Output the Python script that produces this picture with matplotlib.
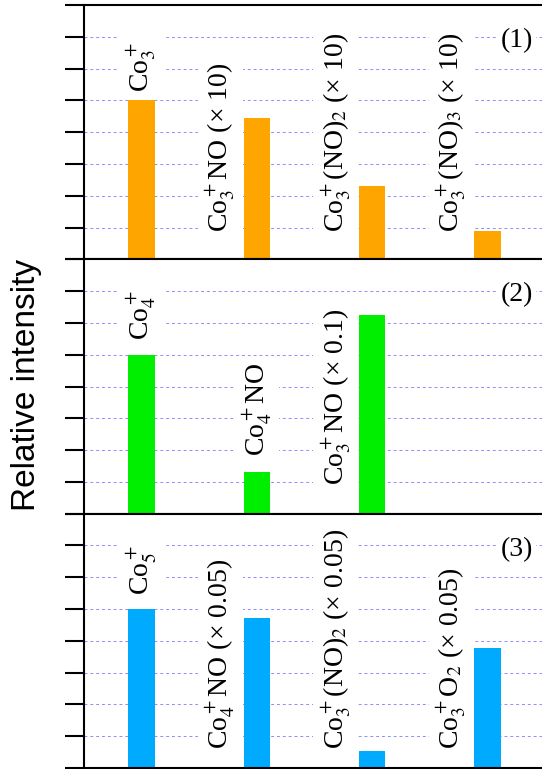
import numpy as np
import matplotlib
matplotlib.use("Agg")
import matplotlib.pyplot as plt

plt.rcParams["font.family"] = ["Liberation Serif", "DejaVu Serif"]
plt.rcParams["mathtext.fontset"] = "stix"

# panel (1)
labels_1 = [r"Co$_3^+$", r"Co$_3^+$NO (× 10)", r"Co$_3^+$(NO)$_2$ (× 10)", r"Co$_3^+$(NO)$_3$ (× 10)"]
values_1 = [5.0, 4.45, 2.3, 0.9]
# panel (2)
labels_2 = [r"Co$_4^+$", r"Co$_4^+$NO", r"Co$_3^+$NO (× 0.1)"]
values_2 = [5.0, 1.3, 6.25]
# panel (3)
labels_3 = [r"Co$_5^+$", r"Co$_4^+$NO (× 0.05)", r"Co$_3^+$(NO)$_2$ (× 0.05)", r"Co$_3^+$O$_2$ (× 0.05)"]
values_3 = [5.0, 4.72, 0.53, 3.78]

# where each label sits: above the bar or left of it, and its lower end
above_1 = [True, False, False, False]
start_1 = [5.25, 0.85, 0.85, 0.85]
above_2 = [True, True, False]
start_2 = [5.45, 1.8, 0.9]
above_3 = [True, False, False, False]
start_3 = [5.45, 0.6, 0.6, 0.6]

colors = ["#ffa500", "#00ee00", "#00aaff"]
tags = ["(1)", "(2)", "(3)"]

panels = [(labels_1, values_1, above_1, start_1),
          (labels_2, values_2, above_2, start_2),
          (labels_3, values_3, above_3, start_3)]

fig = plt.figure(figsize=(5.42, 7.69), dpi=100)
top = 1 - 5 / 769
bot = 1 - 768 / 769
left = 84 / 542
right = 545 / 542
h = (top - bot) / 3

for i, (labels, values, above, start) in enumerate(panels):
    ax = fig.add_axes([left, top - (i + 1) * h, right - left, h])
    x = np.arange(1, len(values) + 1)
    ax.bar(x, values, width=0.23, color=colors[i], zorder=2)
    ax.set_xlim(0.5, 4.5)
    ax.set_ylim(0, 8)
    ax.set_yticks(range(9))
    ax.set_xticks([])
    ax.tick_params(axis="y", direction="out", length=14, width=1.5, labelleft=False)
    ax.set_axisbelow(True)
    ax.grid(axis="y", color="#8c8cff", lw=0.7, linestyle=(0, (3, 3)))
    for s in ax.spines.values():
        s.set_linewidth(1.5)
    ax.spines["right"].set_visible(False)
    for xi, lab, ab, y0 in zip(x, labels, above, start):
        if ab:
            ax.text(xi, y0, lab, rotation=90, ha="center", va="bottom", fontsize=20,
                    zorder=1.5, bbox=dict(boxstyle="square,pad=0.2", fc="white", ec="none"))
        else:
            ax.text(xi - 0.17, y0, lab, rotation=90, ha="right", va="bottom", fontsize=20,
                    zorder=1.5, bbox=dict(boxstyle="square,pad=0.2", fc="white", ec="none"))
    ax.text(0.974, 0.86, tags[i], transform=ax.transAxes, ha="right", va="center",
            fontsize=20, zorder=1.5, bbox=dict(boxstyle="square,pad=0.1", fc="white", ec="none"))

fig.text(27 / 542, 0.5, "Relative intensity", rotation=90, ha="center", va="center",
         fontsize=24, family="Liberation Sans")

fig.savefig("out.png", dpi=100)
